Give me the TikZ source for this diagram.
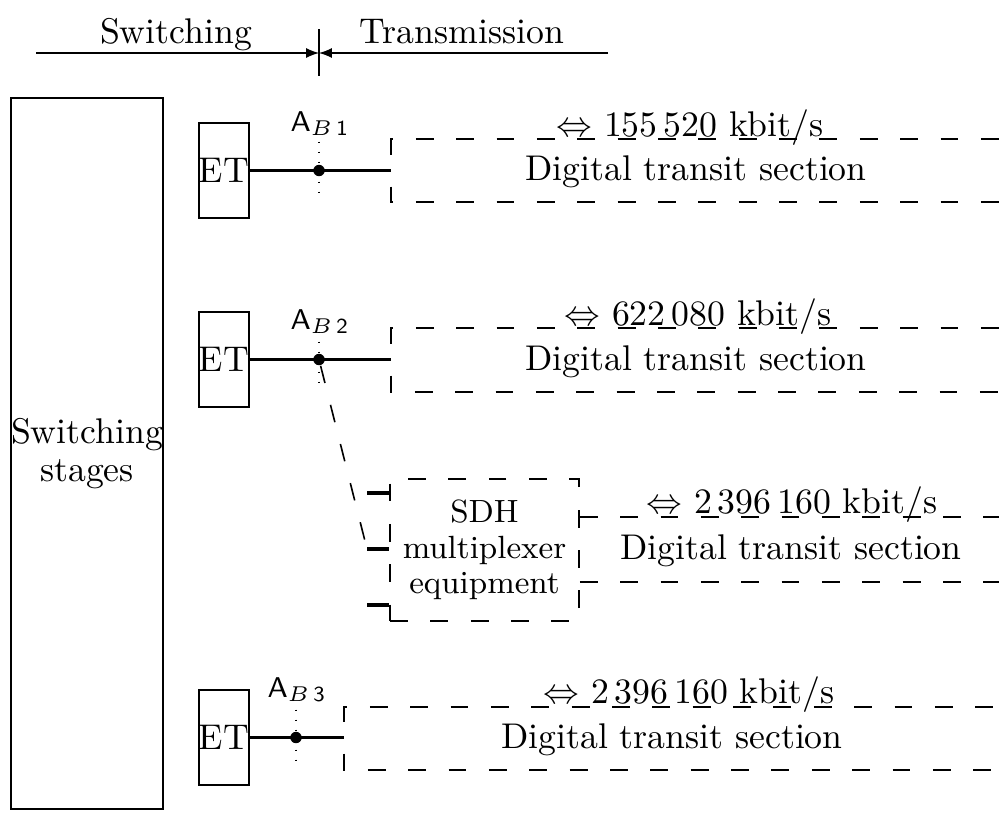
\documentclass[tikz,border=0pt]{standalone}
\usepackage{amsmath,amssymb}
\usepackage{tikz}
\usetikzlibrary{arrows.meta,positioning,calc}

\begin{document}
\begin{tikzpicture}[x=0.28pt,y=-0.28pt,>={Latex[length=3.6pt,width=2.8pt]},
  box/.style={draw,line width=0.5pt,inner sep=0pt,align=center},
  etbox/.style={box,minimum width=14pt,minimum height=26.6pt},
  link/.style={line width=0.9pt},
  dline/.style={line width=0.45pt,dash pattern=on 5pt off 6.3pt},
  dotline/.style={line width=0.5pt,dash pattern=on 0.5pt off 2.3pt},
  junct/.style={circle,fill,inner sep=0pt,minimum size=3.2pt},
  apoint/.style={anchor=base west,inner sep=0pt,font=\footnotesize},
  txt/.style={anchor=base,inner sep=0pt}]
  \useasboundingbox (0,0) rectangle (999,831);

  % switching / transmission boundary
  \coordinate (swl) at (36,53); \coordinate (bnd) at (319,53); \coordinate (trr) at (608,53);
  \node[txt] (swlab) at (176,43) {Switching};
  \node[txt] (trlab) at (462,43) {Transmission};
  \draw[line width=0.35pt,->] (swl) -- (bnd);
  \draw[line width=0.35pt,->] (trr) -- (bnd);
  \draw[line width=0.6pt] ($(bnd)+(0,-24)$) -- ($(bnd)+(0,23)$);

  % switching stages and exchange terminals
  \node[box,line width=0.6pt,minimum width=42.6pt,minimum height=199pt] (stages) at (87,453.5) {Switching\\[-1.5pt]stages};
  \node[etbox] (et1) at (224,170.5) {ET};
  \node[etbox] (et2) at (224,359.5) {ET};
  \node[etbox] (et3) at (224,737.5) {ET};

  % reference points A_B
  \node[junct] (j1) at (319,170.5) {};
  \node[junct] (j2) at (319,359.5) {};
  \node[junct] (j3) at (296,737.5) {};
  \node[apoint] (ab1) at (290,131) {$\mathsf{A}_{B\,\mathsf{1}}$};
  \node[apoint] (ab2) at (290,329) {$\mathsf{A}_{B\,\mathsf{2}}$};
  \node[apoint] (ab3) at (267,697) {$\mathsf{A}_{B\,\mathsf{3}}$};
  \draw[dotline] ($(j1)+(0,-29)$) -- ($(j1)+(0,29)$);
  \draw[dotline] ($(j2)+(0,-28)$) -- ($(j2)+(0,30)$);
  \draw[dotline] ($(j3)+(0,-28)$) -- ($(j3)+(0,29)$);

  % digital transit sections
  \coordinate (s1) at (391,170.5);
  \coordinate (s2) at (391,359.5);
  \coordinate (s3) at (344,737.5);
  \draw[link] (et1) -- (s1);
  \draw[link] (et2) -- (s2);
  \draw[link] (et3) -- (s3);
  \draw[dline] ($(s1)+(0,-16)$) |- ($(s1)+(608,-31.5)$);
  \draw[dline] ($(s1)+(0,16)$) |- ($(s1)+(608,31.5)$);
  \draw[dline] ($(s2)+(0,-16)$) |- ($(s2)+(608,-31.5)$);
  \draw[dline] ($(s2)+(0,16)$) |- ($(s2)+(608,32.5)$);
  \draw[dline] ($(s3)+(0,-16)$) |- ($(s3)+(655,-30.5)$);
  \draw[dline] ($(s3)+(0,16)$) |- ($(s3)+(655,32.5)$);
  \node[txt] (r1) at (690,136) {$\Leftrightarrow$ 155\,520 kbit/s};
  \node[txt] (d1) at (696,180) {Digital transit section};
  \node[txt] (r2) at (698,325) {$\Leftrightarrow$ 622\,080 kbit/s};
  \node[txt] (d2) at (696,370) {Digital transit section};
  \node[txt] (r3) at (689,703) {$\Leftrightarrow$ 2\,396\,160 kbit/s};
  \node[txt] (d3) at (672,748) {Digital transit section};

  % SDH multiplexer
  \node[box,dline,font=\small,minimum width=52.9pt,minimum height=39.8pt] (sdh) at (484.5,550) {SDH\\[-1pt]multiplexer\\[-1pt]equipment};
  \coordinate (m1) at (367,493); \coordinate (m2) at (367,549); \coordinate (m3) at (367,605);
  \draw[link] (m1) -- (sdh.west |- m1);
  \draw[link] (m2) -- (sdh.west |- m2);
  \draw[link] (m3) -- (sdh.west |- m3);
  \draw[dline] (j2) -- (m2);
  \coordinate (t4a) at (999,517); \coordinate (t4b) at (999,582);
  \draw[dline] (sdh.east |- t4a) -- (t4a);
  \draw[dline] (sdh.east |- t4b) -- (t4b);
  \node[txt] (r4) at (792,513) {$\Leftrightarrow$ 2\,396\,160 kbit/s};
  \node[txt] (d4) at (791,559) {Digital transit section};
\end{tikzpicture}
\end{document}
